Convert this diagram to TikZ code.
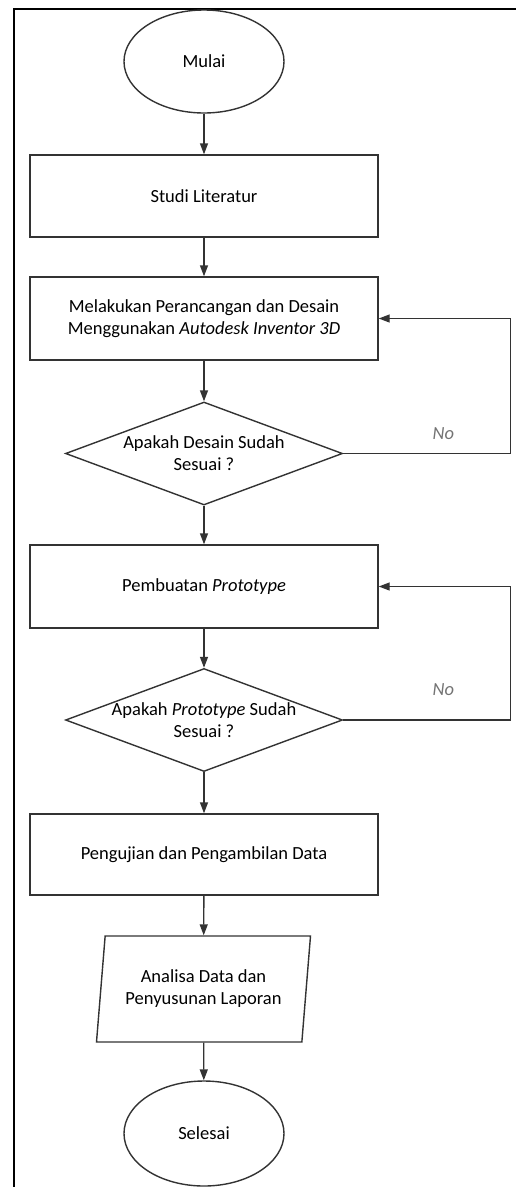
\documentclass[tikz,border=0pt]{standalone}
\usepackage{fontspec}
\setmainfont{Carlito}
\usetikzlibrary{shapes.geometric, arrows.meta}

\begin{document}
\begin{tikzpicture}[x=1pt, y=-1pt, >={Triangle[length=11pt,width=8pt]},
  every node/.style={font=\fontsize{18.5}{22}\selectfont},
  boxline/.style={draw=black!80, line width=1.4pt, fill=white},
  terminal/.style={ellipse, boxline, minimum width=160pt, minimum height=103pt},
  process/.style={rectangle, boxline, minimum width=348pt, minimum height=82pt, align=center},
  decision/.style={diamond, boxline, aspect=2.69, inner sep=-5pt, minimum width=277pt, minimum height=103pt, align=center},
  inout/.style={trapezium, trapezium left angle=79, trapezium right angle=101, trapezium stretches body=true, boxline, minimum width=214pt, minimum height=106pt, align=center},
  flow/.style={->, draw=black!80, line width=1.4pt},
  nolabel/.style={font=\fontsize{18.5}{22}\selectfont\itshape, text=black!55}]
\useasboundingbox (0,0) rectangle (516,1187);

% Frame
\draw[line width=2pt] (516,9) -- (13.5,9) -- (13.5,1187);

% Start
\node[terminal] (mulai) at (204,61.5) {Mulai};

% Literature
\node[process] (studi) at (204,196) {Studi Literatur};

% Design
\node[process, minimum height=83pt] (desain) at (204,318.5) {Melakukan Perancangan dan Desain\\Menggunakan \textit{Autodesk Inventor 3D}};

% Check design
\node[decision] (cek1) at (204,453.5) {Apakah Desain Sudah\\Sesuai ?};

% Prototype
\node[process, minimum height=83pt] (proto) at (204,586.5) {Pembuatan \textit{Prototype}};

% Check prototype
\node[decision] (cek2) at (204,720) {Apakah \textit{Prototype} Sudah\\Sesuai ?};

% Testing
\node[process, minimum height=81pt] (uji) at (204,854.5) {Pengujian dan Pengambilan Data};

% Analysis
\node[inout] (analisa) at (203.5,989) {Analisa Data dan\\Penyusunan Laporan};

% End
\node[terminal, minimum height=105pt] (selesai) at (204,1133.5) {Selesai};

% Main flow
\draw[flow] (mulai) -- (studi);
\draw[flow] (studi) -- (desain);
\draw[flow] (desain) -- (cek1);
\draw[flow] (cek1) -- (proto);
\draw[flow] (proto) -- (cek2);
\draw[flow] (cek2) -- (uji);
\draw[flow] (uji) -- (analisa);
\draw[flow] (analisa) -- (selesai);

% Loops back
\draw[flow] (cek1.east) -- ++(167,0) node[nolabel, pos=0.6, above=10pt] {No} |- (desain.east);
\draw[flow] (cek2.east) -- ++(167,0) node[nolabel, pos=0.6, above=20pt] {No} |- (proto.east);
\end{tikzpicture}
\end{document}
